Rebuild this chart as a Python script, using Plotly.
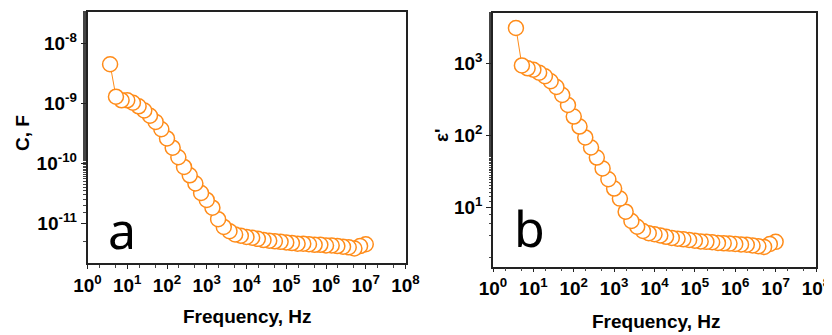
import plotly.graph_objects as go

# Frequency (Hz), ascending
freq = [3.7, 5.2, 7.2, 10, 13.9, 19.3, 26.8, 37.3, 51.8, 72, 100, 139, 193, 268, 373, 518,
        720, 1000, 1390, 1930, 2680, 3730, 5180, 7200, 1.0e4, 1.39e4, 1.93e4, 2.68e4, 3.73e4,
        5.18e4, 7.2e4, 1.0e5, 1.39e5, 1.93e5, 2.68e5, 3.73e5, 5.18e5, 7.2e5, 1.0e6, 1.39e6,
        1.93e6, 2.68e6, 3.73e6, 5.18e6, 7.2e6, 1.0e7]

# Panel a: capacitance C (F)
cap = [4.47e-9, 1.29e-9, 1.12e-9, 1.12e-9, 1.02e-9, 8.9e-10, 7.6e-10, 6.2e-10, 4.9e-10,
       3.7e-10, 2.6e-10, 1.82e-10, 1.26e-10, 8.7e-11, 6.3e-11, 4.6e-11, 3.2e-11, 2.45e-11,
       1.82e-11, 1.17e-11, 8.7e-12, 7.4e-12, 6.5e-12, 6.2e-12, 5.9e-12, 5.75e-12, 5.5e-12,
       5.25e-12, 5.13e-12, 5.0e-12, 4.9e-12, 4.8e-12, 4.68e-12, 4.57e-12, 4.57e-12, 4.47e-12,
       4.37e-12, 4.37e-12, 4.27e-12, 4.27e-12, 4.17e-12, 4.07e-12, 3.98e-12, 3.8e-12,
       4.17e-12, 4.47e-12]

# Panel b: real permittivity eps'
eps = [3090, 933, 851, 813, 741, 661, 562, 468, 363, 263, 182, 132, 93.3, 67.6, 49.0, 34.7,
       24.5, 18.2, 13.2, 8.7, 6.46, 5.37, 4.68, 4.37, 4.22, 4.07, 3.89, 3.76, 3.67, 3.59,
       3.51, 3.43, 3.35, 3.31, 3.27, 3.20, 3.16, 3.13, 3.09, 3.05, 3.02, 2.95, 2.88, 2.82,
       3.09, 3.31]

x_tickvals = [10 ** k for k in range(0, 9)]
x_ticktext = ["<b>10<sup>%d</sup></b>" % k for k in range(0, 9)]
ya_tickvals = [1e-8, 1e-9, 1e-10, 1e-11]
ya_ticktext = ["<b>10<sup>-8</sup></b>", "<b>10<sup>-9</sup></b>",
               "<b>10<sup>-10</sup></b>", "<b>10<sup>-11</sup></b>"]
yb_tickvals = [10, 100, 1000]
yb_ticktext = ["<b>10<sup>1</sup></b>", "<b>10<sup>2</sup></b>", "<b>10<sup>3</sup></b>"]

ORANGE = "#ff8c1a"
OFF = 8  # page body margin
W, H = 832 - OFF, 335 - OFF


def px(x):
    return (x - OFF) / W


def py(y):
    return min(1.0, 1 - (y - OFF) / H)


fig = go.Figure()

marker = dict(symbol="circle", size=15, color="white", line=dict(color=ORANGE, width=1.5))
fig.add_trace(go.Scatter(x=freq[::-1], y=cap[::-1], mode="lines+markers",
                         line=dict(color=ORANGE, width=1), marker=marker,
                         xaxis="x", yaxis="y", showlegend=False))
fig.add_trace(go.Scatter(x=freq[::-1], y=eps[::-1], mode="lines+markers",
                         line=dict(color=ORANGE, width=1), marker=marker,
                         xaxis="x2", yaxis="y2", showlegend=False))

tickfont = dict(family="Liberation Sans, Arial, sans-serif", size=19, color="black")
common_x = dict(type="log", range=[0, 8], tickvals=x_tickvals, ticktext=x_ticktext,
                showline=True, mirror=True, linecolor="#222", linewidth=1.5,
                ticks="outside", ticklen=4, tickwidth=1.2, tickcolor="#222",
                minor=dict(ticks="outside", ticklen=2.5, tickwidth=1, tickcolor="#444"),
                showgrid=False, zeroline=False, tickfont=tickfont, automargin=False)
common_y = dict(type="log", showline=True, mirror=True, linecolor="#222", linewidth=1.5,
                ticks="outside", ticklen=5, tickwidth=1.2, tickcolor="#222",
                minor=dict(ticks="outside", ticklen=2.5, tickwidth=1, tickcolor="#444"),
                showgrid=False, zeroline=False, tickfont=tickfont, automargin=False)

fig.update_layout(
    width=W, height=H,
    margin=dict(l=0, r=0, t=0, b=0, autoexpand=False),
    paper_bgcolor="white", plot_bgcolor="white",
    xaxis=dict(common_x, domain=[px(87.5), px(405.5)], anchor="y"),
    yaxis=dict(common_y, domain=[py(263.3), py(12.0)], anchor="x", range=[-11.667, -7.478],
               tickvals=ya_tickvals, ticktext=ya_ticktext),
    xaxis2=dict(common_x, domain=[px(493.0), px(816.0)], anchor="y2"),
    yaxis2=dict(common_y, domain=[py(266.7), py(12.5)], anchor="x2", range=[0.175, 3.705],
                tickvals=yb_tickvals, ticktext=yb_ticktext),
)

titlefont = dict(family="Liberation Sans, Arial, sans-serif", size=19, color="black")
ann = [
    dict(text="<b>Frequency, Hz</b>", x=px(247), y=py(316), font=titlefont),
    dict(text="<b>Frequency, Hz</b>", x=px(656), y=py(321), font=titlefont),
    dict(text="<b>C, F</b>", x=px(22), y=py(133), textangle=-90, font=titlefont),
    dict(text="<b>ε'</b>", x=px(441), y=py(135), textangle=-90, font=titlefont),
    dict(text="a", x=px(122), y=py(230),
         font=dict(family="Noto Sans, Open Sans, sans-serif", size=50, color="black")),
    dict(text="b", x=px(529), y=py(228),
         font=dict(family="Noto Sans, Open Sans, sans-serif", size=50, color="black")),
]
for a in ann:
    a.update(xref="paper", yref="paper", showarrow=False, xanchor="center", yanchor="middle")
fig.update_layout(annotations=ann)

fig.write_html("out.html")
